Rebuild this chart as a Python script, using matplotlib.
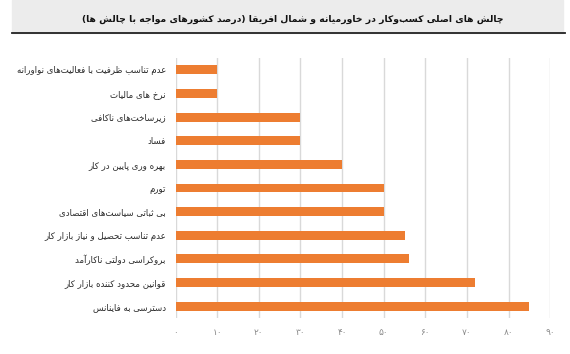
import matplotlib
matplotlib.use('Agg')
import matplotlib.pyplot as plt
from matplotlib.patches import Rectangle
from matplotlib.lines import Line2D

title = 'چالش های اصلی کسب‌وکار در خاورمیانه و شمال افریقا (درصد کشورهای مواجه با چالش ها)'

categories = [
    'عدم تناسب ظرفیت با فعالیت‌های نواورانه',
    'نرخ های مالیات',
    'زیرساخت‌های ناکافی',
    'فساد',
    'بهره وری پایین در کار',
    'تورم',
    'بی ثباتی سیاست‌های اقتصادی',
    'عدم تناسب تحصیل و نیاز بازار کار',
    'بروکراسی دولتی ناکارآمد',
    'قوانین محدود کننده بازار کار',
    'دسترسی به فاینانس',
]
values = [10, 10, 30, 30, 40, 50, 50, 55, 56, 72, 85]

x_ticks = [0, 10, 20, 30, 40, 50, 60, 70, 80, 90]
x_labels = ['۰', '۱۰', '۲۰', '۳۰', '۴۰', '۵۰', '۶۰', '۷۰', '۸۰', '۹۰']

# presentation forms: isolated, final, initial, medial (None = joins only to the right)
FORMS = {
    'ا': (0xFE8D, 0xFE8E, None, None), 'آ': (0xFE81, 0xFE82, None, None),
    'ب': (0xFE8F, 0xFE90, 0xFE91, 0xFE92), 'پ': (0xFB56, 0xFB57, 0xFB58, 0xFB59),
    'ت': (0xFE95, 0xFE96, 0xFE97, 0xFE98), 'ث': (0xFE99, 0xFE9A, 0xFE9B, 0xFE9C),
    'ج': (0xFE9D, 0xFE9E, 0xFE9F, 0xFEA0), 'چ': (0xFB7A, 0xFB7B, 0xFB7C, 0xFB7D),
    'ح': (0xFEA1, 0xFEA2, 0xFEA3, 0xFEA4), 'خ': (0xFEA5, 0xFEA6, 0xFEA7, 0xFEA8),
    'د': (0xFEA9, 0xFEAA, None, None), 'ذ': (0xFEAB, 0xFEAC, None, None),
    'ر': (0xFEAD, 0xFEAE, None, None), 'ز': (0xFEAF, 0xFEB0, None, None),
    'ژ': (0xFB8A, 0xFB8B, None, None),
    'س': (0xFEB1, 0xFEB2, 0xFEB3, 0xFEB4), 'ش': (0xFEB5, 0xFEB6, 0xFEB7, 0xFEB8),
    'ص': (0xFEB9, 0xFEBA, 0xFEBB, 0xFEBC), 'ض': (0xFEBD, 0xFEBE, 0xFEBF, 0xFEC0),
    'ط': (0xFEC1, 0xFEC2, 0xFEC3, 0xFEC4), 'ظ': (0xFEC5, 0xFEC6, 0xFEC7, 0xFEC8),
    'ع': (0xFEC9, 0xFECA, 0xFECB, 0xFECC), 'غ': (0xFECD, 0xFECE, 0xFECF, 0xFED0),
    'ف': (0xFED1, 0xFED2, 0xFED3, 0xFED4), 'ق': (0xFED5, 0xFED6, 0xFED7, 0xFED8),
    'ک': (0xFB8E, 0xFB8F, 0xFB90, 0xFB91), 'گ': (0xFB92, 0xFB93, 0xFB94, 0xFB95),
    'ل': (0xFEDD, 0xFEDE, 0xFEDF, 0xFEE0), 'م': (0xFEE1, 0xFEE2, 0xFEE3, 0xFEE4),
    'ن': (0xFEE5, 0xFEE6, 0xFEE7, 0xFEE8), 'و': (0xFEED, 0xFEEE, None, None),
    'ه': (0xFEE9, 0xFEEA, 0xFEEB, 0xFEEC), 'ی': (0xFBFC, 0xFBFD, 0xFBFE, 0xFBFF),
}


def fa(text):
    # matplotlib has no arabic shaping, so pick joined forms and reverse by hand
    out = []
    for i, c in enumerate(text):
        if c not in FORMS:
            out.append(c)
            continue
        prev = text[i - 1] if i > 0 else ''
        nxt = text[i + 1] if i + 1 < len(text) else ''
        jp = prev in FORMS and FORMS[prev][2] is not None
        jn = nxt in FORMS and FORMS[c][2] is not None
        f = FORMS[c]
        if jp and jn:
            g = f[3]
        elif jp:
            g = f[1]
        elif jn:
            g = f[2]
        else:
            g = f[0]
        out.append(chr(g))
    s = ''.join(out).replace('\u200c', '')[::-1]
    return s.replace('(', '\0').replace(')', '(').replace('\0', ')')


plt.rcParams['font.family'] = ['DejaVu Sans']

fig = plt.figure(figsize=(5.7, 3.54), dpi=100)

# title band
fig.patches.append(Rectangle((12 / 570, 1 - 33 / 354), 551 / 570, 33 / 354,
                             transform=fig.transFigure, color='#ececec', zorder=0))
fig.lines.append(Line2D([12 / 570, 565 / 570], [1 - 33 / 354] * 2,
                        transform=fig.transFigure, color='#222222', lw=1.3))
fig.text(293 / 570, 1 - 19 / 354, fa(title), ha='center', va='center',
         fontsize=6.7, fontweight='bold', color='#111111')

ax = fig.add_axes([175.5 / 570, 1 - 318 / 354, 374.8 / 570, 260 / 354])
y = list(range(len(categories)))
ax.barh(y, values, height=0.38, color='#ED7D31', zorder=3)
ax.set_xlim(0, 90)
ax.set_ylim(10.5, -0.5)
ax.set_xticks(x_ticks)
ax.set_xticklabels(x_labels, color='#8a8a8a', fontsize=6.5)
ax.set_yticks(y)
ax.set_yticklabels([fa(c) for c in categories], fontsize=6.2, color='#2b2b2b')
ax.tick_params(axis='y', length=0, pad=7)
ax.tick_params(axis='x', length=0, pad=7.5)
ax.grid(axis='x', color='#d9d9d9', lw=1, zorder=0)
for s in ax.spines.values():
    s.set_visible(False)

fig.savefig('out.png', dpi=100)
